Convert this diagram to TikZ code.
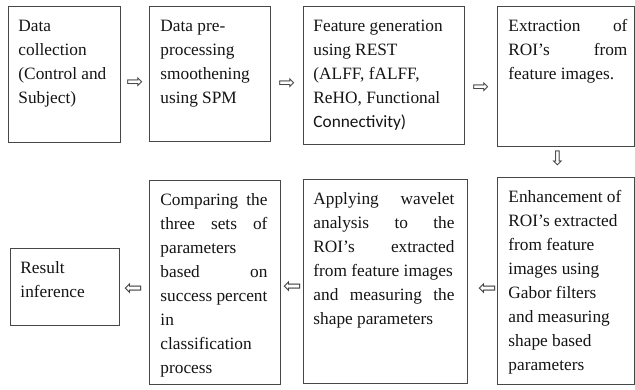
\documentclass[tikz,border=0pt]{standalone}
\usepackage{fontspec}
\setmainfont{Liberation Serif}[Ligatures=TeX]
\newfontfamily\timesfont{Liberation Serif}[Ligatures=TeX]
\newfontfamily\calfont{Carlito}
\newfontfamily\arrowfont{DejaVu Sans}
\usetikzlibrary{calc}
% #1 width, #2 height, #3 left inset, #4 right inset, #5 text
\newcommand\boxtxt[5]{\parbox[c][#2][t]{#1}{\leftskip=#3\rightskip=#4\parindent=0pt\hyphenpenalty=10000\vspace*{8.5pt}\strut#5}}
\tikzset{
  box/.style={draw=black!72, line width=0.9pt, inner sep=0pt, anchor=north west,
    font=\timesfont\fontsize{17.3}{24}\selectfont, text=black!92},
  arr/.style={inner sep=0pt, font=\arrowfont\fontsize{22}{22}\selectfont, text=black!75},
  arrsmall/.style={arr, font=\arrowfont\fontsize{20}{20}\selectfont}
}
\begin{document}
\begin{tikzpicture}[x=1pt,y=-1pt]
\useasboundingbox[fill=white] (0,0) rectangle (635,389);
% top row
\node[box] (b1) at (8,6) {\boxtxt{112pt}{136pt}{10pt}{2pt}{Data\\collection\\(Control and\\Subject)}};
\node[box] (b2) at (149,6) {\boxtxt{121pt}{135pt}{11pt}{2pt}{Data pre-\\processing\\smoothening\\using SPM}};
\node[box] (b3) at (303,6) {\boxtxt{161pt}{138pt}{10pt}{4pt}{Feature generation\\using REST\\(ALFF, fALFF,\\ReHO, Functional\\{\calfont Connectivity)}}};
\node[box] (b4) at (497,6) {\boxtxt{137pt}{140pt}{11pt}{7pt}{Extraction\hfill of\\ROI's\hfill from\\feature images.}};
% bottom row
\node[box] (b5) at (497,177) {\boxtxt{137pt}{207pt}{11pt}{4pt}{Enhancement of\\ROI's extracted\\from feature\\images using\\Gabor filters\\and measuring\\shape based\\parameters}};
\node[box] (b6) at (303,179) {\boxtxt{164pt}{204pt}{10pt}{13pt}{Applying\hfill wavelet\\analysis\hfill to\hfill the\\ROI's\hfill extracted\\from feature images\\and\hfill measuring\hfill the\\shape parameters}};
\node[box] (b7) at (149,180) {\boxtxt{131pt}{204pt}{11pt}{13pt}{Comparing\hfill the\\three\hfill sets\hfill of\\parameters\\based\hfill on\\success percent\\in\\classification\\process}};
\node[box] (b8) at (10,248) {\boxtxt{109pt}{77pt}{10pt}{2pt}{Result\\inference}};
% arrows
\path (b1.east) -- (b2.west) node[arrsmall, midway, yshift=-9pt] (a12) {⇨};
\path (b2.east) -- (b3.west) node[arrsmall, midway, yshift=-9pt] (a23) {⇨};
\path (b3.east) -- (b4.west) node[arrsmall, midway, yshift=-11.5pt] (a34) {⇨};
\path (b4.south) -- (b5.north) node[arrsmall, midway, xshift=-8.5pt, yshift=3.5pt] (a45) {⇩};
\path (b5.west) -- (b6.east) node[arr, midway, xshift=5pt, yshift=-8pt] (a56) {⇦};
\path (b6.west) -- (b7.east) node[arr, midway, xshift=0.5pt, yshift=-5.5pt] (a67) {⇦};
\path (b7.west) -- (b8.east) node[arr, midway, xshift=-1pt, yshift=-5pt] (a78) {⇦};
\end{tikzpicture}
\end{document}
